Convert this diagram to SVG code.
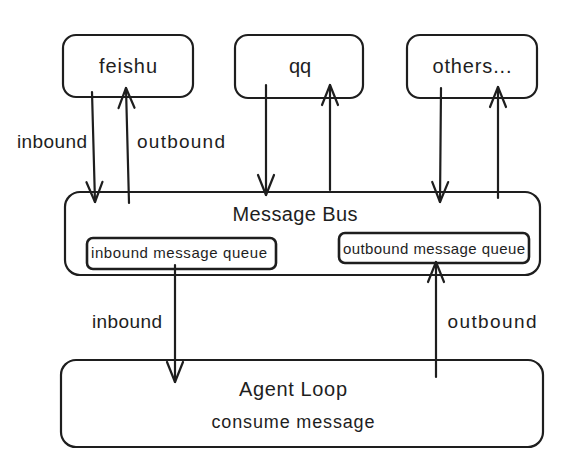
<svg xmlns="http://www.w3.org/2000/svg" width="572" height="476" viewBox="0 0 572 476">
<style>
.box{fill:#ffffff;stroke:#1e1e1e;stroke-width:2.2}
.inner{fill:#ffffff;stroke:#1e1e1e;stroke-width:2.6}
.t{font-family:"Liberation Sans",Arial,sans-serif;fill:#1e1e1e}
.c{stroke:#1e1e1e;stroke-width:2.2;fill:none;stroke-linecap:round;marker-end:url(#ah)}
</style>
<defs>
<marker id="ah" markerWidth="28" markerHeight="22" refX="22" refY="10" orient="auto" markerUnits="userSpaceOnUse">
<path d="M2,2 L22,10 L2,18" fill="none" stroke="#1e1e1e" stroke-width="2.2" stroke-linecap="round" stroke-linejoin="round"/>
</marker>
</defs>
<rect width="572" height="476" fill="#ffffff"/>
<g id="feishu">
<rect class="box" x="63" y="35" width="130" height="62" rx="13"/>
<text class="t" x="128" y="73" font-size="20" text-anchor="middle" textLength="58">feishu</text>
</g>
<g id="qq">
<rect class="box" x="235" y="35" width="128" height="63" rx="13"/>
<text class="t" x="300" y="73" font-size="20" text-anchor="middle">qq</text>
</g>
<g id="others">
<rect class="box" x="407" y="35" width="130" height="63" rx="13"/>
<text class="t" x="472" y="73" font-size="20" text-anchor="middle" textLength="79">others...</text>
</g>
<g id="message-bus">
<rect class="box" x="65" y="192" width="475" height="83" rx="15"/>
<text class="t" x="295" y="221" font-size="20" text-anchor="middle" textLength="125">Message Bus</text>
</g>
<g id="inbound-queue">
<rect class="inner" x="87" y="238" width="189" height="31" rx="6"/>
<text class="t" x="179" y="258" font-size="15" text-anchor="middle" textLength="176">inbound message queue</text>
</g>
<g id="outbound-queue">
<rect class="inner" x="339" y="233" width="190" height="30" rx="6"/>
<text class="t" x="434" y="254" font-size="15" text-anchor="middle" textLength="182">outbound message queue</text>
</g>
<g id="agent-loop">
<rect class="box" x="61" y="360" width="482" height="87" rx="15"/>
<text class="t" x="293" y="396" font-size="20" text-anchor="middle" textLength="108">Agent Loop</text>
<text class="t" x="293" y="428" font-size="18" text-anchor="middle" textLength="163">consume message</text>
</g>
<g id="connectors">
<path class="c" d="M92,92 L95,202"/>
<path class="c" d="M129,203 L126,88"/>
<path class="c" d="M266,85 L266,195"/>
<path class="c" d="M330,190 L330,85"/>
<path class="c" d="M441,88 L440,202"/>
<path class="c" d="M498,198 L498,87"/>
<path class="c" d="M175,265 L175,382"/>
<path class="c" d="M436,377 L436,262"/>
</g>
<g id="labels">
<text class="t" x="52" y="148" font-size="19" text-anchor="middle" textLength="70">inbound</text>
<text class="t" x="181" y="148" font-size="19" text-anchor="middle" textLength="88">outbound</text>
<text class="t" x="127" y="328" font-size="19" text-anchor="middle" textLength="70">inbound</text>
<text class="t" x="492" y="328" font-size="19" text-anchor="middle" textLength="89">outbound</text>
</g>
</svg>
